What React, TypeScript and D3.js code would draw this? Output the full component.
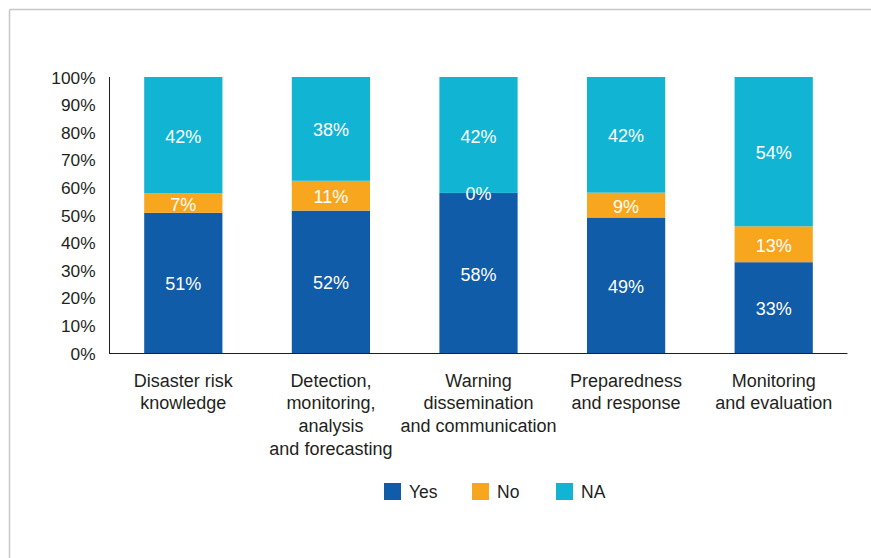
import React from "react";
import * as d3 from "d3";

const categories = [
  ["Disaster risk", "knowledge"],
  ["Detection,", "monitoring,", "analysis", "and forecasting"],
  ["Warning", "dissemination", "and communication"],
  ["Preparedness", "and response"],
  ["Monitoring", "and evaluation"],
];
const yesValues = [50.8, 51.6, 58.0, 49.1, 32.9];
const noValues = [7.1, 10.8, 0.0, 9.0, 13.0];
const naValues = [42.1, 37.6, 42.0, 41.9, 54.1];
const seriesNames = ["Yes", "No", "NA"];
const seriesColors = ["#115ca8", "#f9a61f", "#12b4d4"];
const yTicks = [0, 10, 20, 30, 40, 50, 60, 70, 80, 90, 100];

const W = 871;
const H = 558;
const FONT = "'Liberation Sans', Arial, sans-serif";

export default function App() {
  const x = d3
    .scaleBand<number>()
    .domain(d3.range(categories.length))
    .range([109.5, 847.5])
    .paddingInner(0.47)
    .paddingOuter(0.235);
  const y = d3.scaleLinear().domain([0, 100]).range([353, 77]);

  const rows = categories.map((_, i) => ({ Yes: yesValues[i], No: noValues[i], NA: naValues[i] }));
  const stack = d3.stack<any>().keys(seriesNames)(rows);

  return (
    <div style={{ position: "absolute", left: 0, top: 0 }}>
      <svg width={W} height={H} style={{ display: "block", fontFamily: FONT }}>
        <rect x={0} y={0} width={W} height={H} fill="#fff" />
        <line x1={9.5} y1={9.5} x2={W} y2={9.5} stroke="#c8c8c8" strokeWidth={1.5} />
        <line x1={9.5} y1={9.5} x2={9.5} y2={H} stroke="#c8c8c8" strokeWidth={1.5} />

        {yTicks.map((t) => (
          <text key={t} x={95.5} y={y(t)} dy="0.38em" textAnchor="end" fontSize={17.3} fill="#231f20">
            {t}%
          </text>
        ))}

        {stack.map((s, si) =>
          s.map((d, i) => (
            <rect
              key={si + "-" + i}
              x={x(i)}
              y={y(d[1])}
              width={x.bandwidth()}
              height={y(d[0]) - y(d[1])}
              fill={seriesColors[si]}
            />
          ))
        )}
        {stack.map((s, si) =>
          s.map((d, i) => (
            <text
              key={"l" + si + "-" + i}
              x={(x(i) as number) + x.bandwidth() / 2}
              y={y((d[0] + d[1]) / 2)}
              dy="0.42em"
              textAnchor="middle"
              fontSize={18}
              fill="#fff"
            >
              {Math.round(d[1] - d[0])}%
            </text>
          ))
        )}

        <line x1={109.5} y1={77} x2={109.5} y2={353} stroke="#231f20" strokeWidth={1} />
        <line x1={109} y1={353.5} x2={847.5} y2={353.5} stroke="#231f20" strokeWidth={1.2} />

        {categories.map((lines, i) => (
          <text
            key={"c" + i}
            x={(x(i) as number) + x.bandwidth() / 2}
            textAnchor="middle"
            fontSize={18}
            fill="#231f20"
          >
            {lines.map((ln, li) => (
              <tspan key={li} x={(x(i) as number) + x.bandwidth() / 2} y={386.5 + li * 22.7}>
                {ln}
              </tspan>
            ))}
          </text>
        ))}

        {seriesNames.map((n, i) => {
          const lx = [384, 472, 556][i];
          return (
            <g key={n}>
              <rect x={lx} y={483} width={17} height={17} fill={seriesColors[i]} />
              <text x={lx + 25} y={491.5} dy="0.38em" fontSize={17.5} fill="#231f20">
                {n}
              </text>
            </g>
          );
        })}
      </svg>
    </div>
  );
}
